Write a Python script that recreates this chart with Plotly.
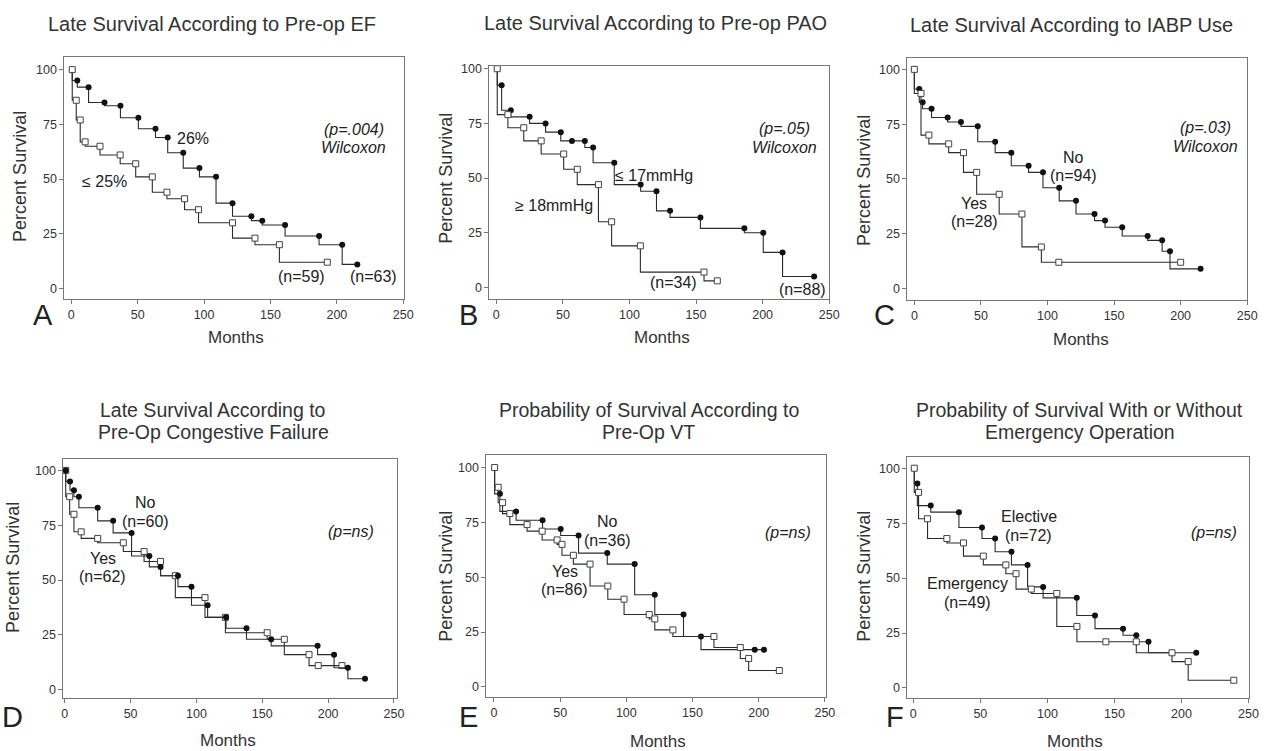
import plotly.graph_objects as go

W, H = 1280, 751

# ---------------- data (months, percent survival) ----------------
# A: Pre-op EF
a_fill_t = [0.7, 4.5, 13, 25, 37, 50.5, 63.4, 72.6, 84.3, 96.5, 109, 121.4, 135.6, 143.8, 161, 186.6, 204, 215.4]
a_fill_s = [100, 95, 92, 85, 83.5, 78, 73, 69, 62, 55, 51, 39, 33, 31, 29, 24, 20, 11]
a_open_t = [0.7, 3.7, 6.7, 10.4, 21.6, 36.8, 48.5, 61, 72, 85.3, 95.8, 121.4, 138.3, 156.7, 192.8]
a_open_s = [100, 86, 77, 67, 65, 61, 57, 51, 44, 41, 36, 30, 23, 20, 12]
# B: Pre-op PAO
b_fill_t = [0.7, 4, 10.9, 25, 37, 48.4, 56.8, 66.5, 72.7, 88.6, 108.4, 120.3, 130.5, 153.3, 186.3, 200.5, 215, 238.7]
b_fill_s = [100, 92.5, 81, 78, 75, 71, 67, 67, 64, 57, 47, 44, 35, 32, 27, 25, 16, 5]
b_open_t = [0.7, 8.7, 20.6, 33.7, 50.6, 60.8, 76.7, 86.6, 108.2, 156, 166]
b_open_s = [100, 79, 73, 67, 61, 54, 47, 30, 19, 7, 3]
# C: IABP use
c_fill_t = [0, 3.7, 6.2, 12.9, 25, 35, 47.6, 60.7, 72.8, 85.8, 96.6, 108.8, 121.4, 135.3, 143.2, 156.1, 175.2, 186.1, 192, 215]
c_fill_s = [100, 91, 85, 82, 78, 76, 74, 67, 62, 56, 53, 46, 40, 34, 31, 28, 24, 22, 17, 9]
c_open_t = [0, 5, 10.9, 25.8, 36.9, 46.8, 63.7, 80.8, 95.4, 108.5, 200]
c_open_s = [100, 89, 70, 66, 62, 53, 43, 34, 19, 12, 12]
# D: Congestive failure
d_fill_t = [0.75, 4, 7, 10.75, 25, 36.75, 50.75, 64.25, 72.75, 86, 96.25, 108.5, 122.5, 138, 156.75, 192, 204.5, 215, 228]
d_fill_s = [100, 95, 91, 88, 83, 77, 71.5, 61, 56, 52, 47, 38.5, 33, 28, 23, 20, 16, 10, 5]
d_open_t = [0.75, 3.75, 7, 12.5, 25, 44.5, 60.25, 72.75, 84, 106.5, 122, 153.75, 166.75, 185.5, 192.5, 210.5]
d_open_s = [100, 88, 80, 72, 69, 67, 63, 58.5, 52, 42, 33, 26, 23, 16, 11, 11]
# E: Pre-op VT
e_fill_t = [0.5, 4.5, 16.7, 36.7, 50.4, 63.9, 85.6, 106.3, 121.5, 143.2, 156.4, 197, 204]
e_fill_s = [100, 88, 80, 76, 72, 69, 61, 56, 42, 33, 23, 17, 17]
e_open_t = [0.5, 3.2, 6.5, 12, 25, 36.4, 47.7, 51.4, 60, 72.6, 86, 98.3, 117.3, 121.5, 135.2, 166.2, 186.1, 192.4, 215.6]
e_open_s = [100, 91, 84, 79, 74, 71, 67, 65, 60, 56, 46, 40, 33, 31, 26, 23, 18, 13, 7.5]
# F: Emergency operation
f_fill_t = [0.7, 3, 13, 34, 51.2, 61, 73.2, 85.2, 96.8, 121.9, 135.5, 156.4, 166.3, 175.4, 192.9, 211]
f_fill_s = [100, 93, 83, 80, 73, 68, 62, 56, 46, 41, 33, 27, 24, 21, 16, 16]
f_open_t = [0.7, 3.9, 10.6, 25, 37.4, 52.2, 69, 76.6, 88, 107, 122, 143.6, 166.3, 192.9, 205, 239]
f_open_s = [100, 89, 77, 68, 66, 60, 56, 52, 45, 43, 28, 21, 21, 16, 12, 3.5]

x_ticks = [0, 50, 100, 150, 200, 250]
y_ticks = [0, 25, 50, 75, 100]

titles = [
    ["Late Survival According to Pre-op EF"],
    ["Late Survival According to Pre-op PAO"],
    ["Late Survival According to IABP Use"],
    ["Late Survival According to", "Pre-Op Congestive Failure"],
    ["Probability of Survival According to", "Pre-Op VT"],
    ["Probability of Survival With or Without", "Emergency Operation"],
]
letters = ["A", "B", "C", "D", "E", "F"]

# ---------------- layout geometry (pixels) ----------------
panels = [
    dict(fill=(a_fill_t, a_fill_s), open=(a_open_t, a_open_s), box=(63, 406, 53, 297),
         xr=[-5.2, 250.7], yr=[-5, 105.9], title_xy=(212, 20), letter_xy=(41, 313),
         months_xy=(236, 335), ps_xy=(18, 173), open_first=False,
         notes=[("26%", 92, 68.5, False), ("≤ 25%", 25, 49, False), ("(p=.004)", 212.7, 72.8, True),
                ("Wilcoxon", 212.7, 64.2, True), ("(n=59)", 173.6, 5.6, False), ("(n=63)", 227.6, 5.6, False)]),
    dict(fill=(b_fill_t, b_fill_s), open=(b_open_t, b_open_s), box=(492, 835, 62, 297),
         xr=[-5.2, 250], yr=[-5.5, 101.4], title_xy=(660, 19), letter_xy=(471, 313),
         months_xy=(666, 335), ps_xy=(448, 175), open_first=False,
         notes=[("(p=.05)", 216.6, 72.8, True), ("Wilcoxon", 216.6, 64.2, True), ("≤ 17mmHg", 118.6, 51, False),
                ("≥ 18mmHg", 43, 37.4, False), ("(n=34)", 132.8, 2.3, False), ("(n=88)", 230, -0.8, False)]),
    dict(fill=(c_fill_t, c_fill_s), open=(c_open_t, c_open_s), box=(914, 1257, 54, 298),
         xr=[-5.2, 250], yr=[-5.4, 105.3], title_xy=(1080, 21), letter_xy=(891, 313),
         months_xy=(1089, 337), ps_xy=(870, 177), open_first=False,
         notes=[("(p=.03)", 218.5, 73.3, True), ("Wilcoxon", 218.5, 64.9, True), ("No", 119.4, 60, False),
                ("(n=94)", 119.4, 51.6, False), ("Yes", 45, 38.8, False), ("(n=28)", 45, 30.5, False)]),
    dict(fill=(d_fill_t, d_fill_s), open=(d_open_t, d_open_s), box=(62, 399, 457, 698),
         xr=[-1, 252.5], yr=[-3.9, 105.4], title_xy=(213, 408), letter_xy=(11, 717),
         months_xy=(228, 740), ps_xy=(11, 566), open_first=True,
         notes=[("No", 61.25, 85.2, False), ("(n=60)", 61.25, 76.6, False), ("Yes", 28.75, 60, False),
                ("(n=62)", 28.75, 51.5, False), ("(p=ns)", 217.5, 72.3, True)]),
    dict(fill=(e_fill_t, e_fill_s), open=(e_open_t, e_open_s), box=(489, 832, 453, 697),
         xr=[-5.7, 251], yr=[-4.7, 105.9], title_xy=(653, 408), letter_xy=(471, 717),
         months_xy=(662, 741), ps_xy=(448, 575), open_first=False,
         notes=[("No", 86, 75.4, False), ("(n=36)", 86, 66.9, False), ("Yes", 53.6, 52.7, False),
                ("(n=86)", 53.6, 44.2, False), ("(p=ns)", 222, 70.5, True)]),
    dict(fill=(f_fill_t, f_fill_s), open=(f_open_t, f_open_s), box=(914, 1259, 455, 698),
         xr=[-4.4, 250.5], yr=[-4.7, 105.3], title_xy=(1088, 408), letter_xy=(901, 717),
         months_xy=(1083, 741), ps_xy=(870, 575), open_first=False,
         notes=[("Elective", 86.2, 78, False), ("(n=72)", 86.2, 69.5, False), ("Emergency", 40.6, 47.4, False),
                ("(n=49)", 40.6, 38.9, False), ("(p=ns)", 224, 70.9, True)]),
]

FONT = "Arial, Liberation Sans, sans-serif"
LINE = "#2b2b2b"

fig = go.Figure()
annotations = []
layout = dict(width=W, height=H, margin=dict(l=0, r=0, t=0, b=0),
              paper_bgcolor="white", plot_bgcolor="white", showlegend=False,
              font=dict(family=FONT, color="#333"))


def paper_text(text, px, py, size, color="#333", angle=0):
    return dict(text=text, x=px / W, y=1 - py / H, xref="paper", yref="paper",
                xanchor="center", yanchor="middle", showarrow=False, textangle=angle,
                font=dict(size=size, color=color, family=FONT))


for i, p in enumerate(panels, start=1):
    xa = "x" if i == 1 else f"x{i}"
    ya = "y" if i == 1 else f"y{i}"
    x0, x1, y0, y1 = p["box"]
    common = dict(showline=True, mirror=True, linecolor="#777", linewidth=1,
                  ticks="outside", ticklen=4, tickcolor="#777", showgrid=False,
                  zeroline=False, tickfont=dict(size=12.5, color="#333", family=FONT))
    layout["xaxis" if i == 1 else f"xaxis{i}"] = dict(
        domain=[x0 / W, x1 / W], range=p["xr"], tickvals=x_ticks, anchor=ya, **common)
    layout["yaxis" if i == 1 else f"yaxis{i}"] = dict(
        domain=[1 - y1 / H, 1 - y0 / H], range=p["yr"], tickvals=y_ticks, anchor=xa, **common)

    fill_tr = go.Scatter(x=p["fill"][0], y=p["fill"][1], mode="lines+markers",
                         line=dict(shape="vh", color=LINE, width=1.1),
                         marker=dict(symbol="circle", size=6, color="#111"),
                         xaxis=xa, yaxis=ya, cliponaxis=False)
    open_tr = go.Scatter(x=p["open"][0], y=p["open"][1], mode="lines+markers",
                         line=dict(shape="vh", color=LINE, width=1.1),
                         marker=dict(symbol="square", size=6, color="white",
                                     line=dict(color="#444", width=1)),
                         xaxis=xa, yaxis=ya, cliponaxis=False)
    if p["open_first"]:
        fig.add_trace(open_tr); fig.add_trace(fill_tr)
    else:
        fig.add_trace(fill_tr); fig.add_trace(open_tr)

    for text, tx, ty, ital in p["notes"]:
        annotations.append(dict(text=f"<i>{text}</i>" if ital else text, x=tx, y=ty,
                                xref=xa, yref=ya, xanchor="center", yanchor="middle", showarrow=False,
                                font=dict(size=16, color="#222", family=FONT)))
    tx, ty = p["title_xy"]
    for k, line in enumerate(titles[i - 1]):
        annotations.append(paper_text(line, tx, ty + 22 * k, 20 if len(titles[i - 1]) == 1 else 19.5))
    annotations.append(paper_text(letters[i - 1], *p["letter_xy"], 29, "#222"))
    annotations.append(paper_text("Months", *p["months_xy"], 17))
    annotations.append(paper_text("Percent Survival", *p["ps_xy"], 18, angle=-90))

layout["annotations"] = annotations
fig.update_layout(**layout)
fig.write_html("out.html", config={"displayModeBar": False},
               post_script="document.body.style.margin='0';document.body.style.overflow='hidden';")
